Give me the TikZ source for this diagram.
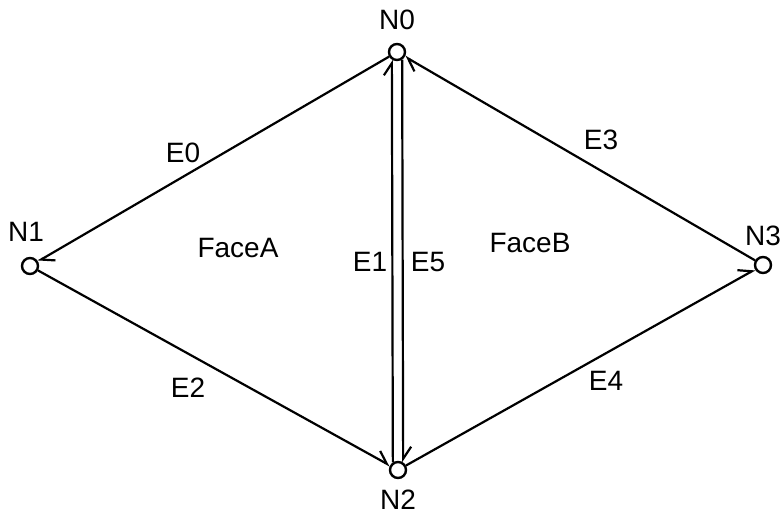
\documentclass[tikz,border=0pt]{standalone}
\usepackage{fontspec}
\setmainfont{Liberation Sans}
\usepackage{tikz}
\usetikzlibrary{arrows.meta}

\begin{document}
\begin{tikzpicture}[
  x=0.5pt, y=-0.5pt,
  vertex/.style={draw, circle, line width=1.2pt, minimum size=8pt, inner sep=0pt},
  vlabel/.style={font=\fontsize{14}{16}\selectfont, inner sep=0pt},
  elabel/.style={font=\fontsize{14}{16}\selectfont, inner sep=0pt},
  edge/.style={line width=1.1pt, -{Straight Barb[left, length=6pt, width=8pt, line width=1.1pt]}},
]
\useasboundingbox (0,0) rectangle (780,518);

% Vertices
\node[vertex] (n0) at (397, 52) {};
\node[vertex] (n1) at (30, 266) {};
\node[vertex] (n2) at (398, 470) {};
\node[vertex] (n3) at (763, 265) {};
\node[vlabel] (l0) at (397, 20) {N0};
\node[vlabel] (l1) at (26, 232) {N1};
\node[vlabel] (l2) at (398, 500) {N2};
\node[vlabel] (l3) at (763, 236) {N3};

% Half-edges
\draw[edge] (n0) -- (n1);
\draw[edge] (n1) -- (n2);
\draw[edge] (n2.124) -- (n0.236);
\draw[edge] (n0.304) -- (n2.56);
\draw[edge] (n3) -- (n0);
\draw[edge] (n2) -- (n3);

% Edge labels
\node[elabel] (e0) at (183, 153) {E0};
\node[elabel] (e2) at (188, 388) {E2};
\node[elabel] (e1) at (370, 262) {E1};
\node[elabel] (e5) at (428, 262) {E5};
\node[elabel] (e3) at (601, 140) {E3};
\node[elabel] (e4) at (606, 381) {E4};

% Faces
\node[elabel] (fa) at (238, 248) {FaceA};
\node[elabel] (fb) at (530, 243) {FaceB};
\end{tikzpicture}
\end{document}
